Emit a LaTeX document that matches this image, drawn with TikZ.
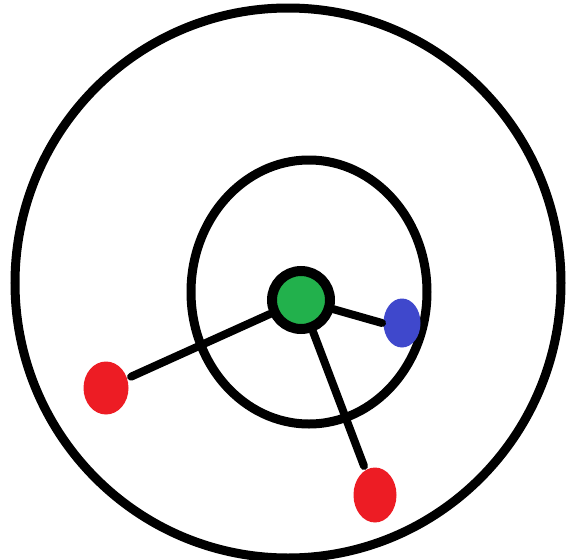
\documentclass[tikz,border=0pt]{standalone}
\usepackage{tikz}
\usetikzlibrary{shapes.geometric}
\definecolor{cHUB}{HTML}{22B14C}
\definecolor{cBLU}{HTML}{3F48CC}
\definecolor{cRED}{HTML}{ED1C24}

\begin{document}
\begin{tikzpicture}[x=1pt, y=-1pt, line width=9pt,
  dot/.style={ellipse, draw=none, inner sep=0pt},
  link/.style={line width=8pt, line cap=round}]
\useasboundingbox (0,0) rectangle (566,560);
\draw (288,283) ellipse [x radius=273, y radius=275];
\draw (309,292) ellipse [x radius=118, y radius=132];
\node[circle, draw, line width=10pt, fill=cHUB, inner sep=0pt, minimum size=58pt] (hub) at (301,300) {};
\node[dot, fill=cBLU, minimum width=37pt, minimum height=49pt] (near) at (402,323) {};
\node[dot, fill=cRED, minimum width=45pt, minimum height=53pt] (farL) at (106,388) {};
\node[dot, fill=cRED, minimum width=43pt, minimum height=55pt] (farB) at (375,495) {};
\draw[link] (hub) -- (farL);
\draw[link] (hub) -- ([xshift=3pt]near.west);
\draw[link] (hub) -- (farB);
\end{tikzpicture}
\end{document}
